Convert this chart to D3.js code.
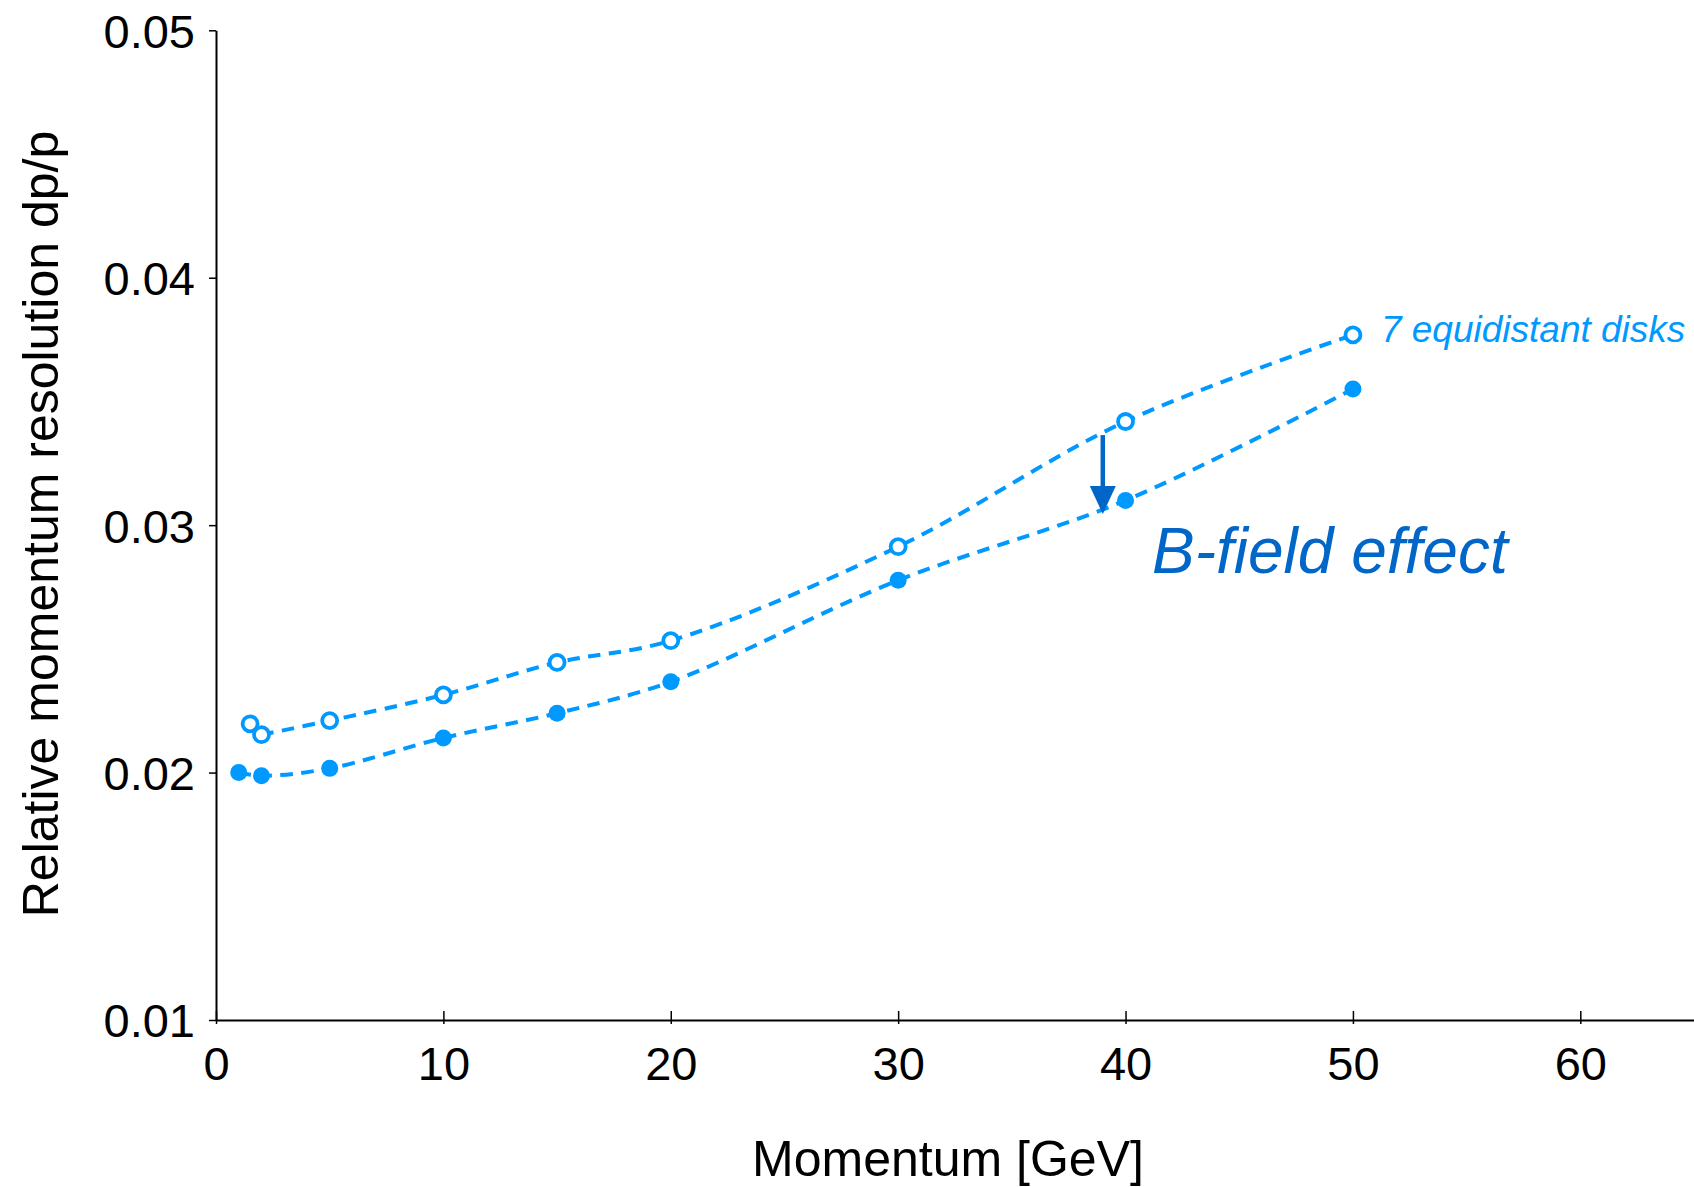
<!DOCTYPE html>
<html>
<head>
<meta charset="utf-8">
<script src="https://cdn.jsdelivr.net/npm/d3@7"></script>
<style>
  html, body { margin: 0; padding: 0; background: #fff; }
  svg { display: block; }
  text { font-family: "Liberation Sans", Arial, Helvetica, sans-serif; }
</style>
</head>
<body>
<svg id="chart" width="1694" height="1187"></svg>
<script>
// Momentum values [GeV] and relative resolution dp/p
const momentumOpen   = [1.5, 2, 5, 10, 15, 20, 30, 40, 50];
const resolutionOpen = [0.02197, 0.02153, 0.0221, 0.02314, 0.02445, 0.02533, 0.02913, 0.03419, 0.03769];

const momentumFilled   = [1, 2, 5, 10, 15, 20, 30, 40, 50];
const resolutionFilled = [0.0200, 0.01987, 0.02017, 0.0214, 0.0224, 0.02367, 0.02777, 0.0310, 0.0355];

const xTicks = [0, 10, 20, 30, 40, 50, 60];
const yTicks = [0.01, 0.02, 0.03, 0.04, 0.05];
const xTickLabels = ["0", "10", "20", "30", "40", "50", "60"];
const yTickLabels = ["0.01", "0.02", "0.03", "0.04", "0.05"];

// Arrow annotation: from the open curve down to the filled curve near 39 GeV
const arrowX = [39, 39];
const arrowY = [0.03364, 0.03045];

const seriesLabel = "7 equidistant disks";
const effectLabel = "B-field effect";

const lightBlue = "#0099ff";
const darkBlue = "#0066c8";

const svg = d3.select("#chart");
const plotLeft = 216, plotRight = 1694, plotTop = 30.3, plotBottom = 1020;

const x = d3.scaleLinear().domain([0, 65]).range([plotLeft, plotRight]);
const y = d3.scaleLinear().domain([0.01, 0.05]).range([plotBottom, plotTop]);

// Y axis
const yAxis = svg.append("g")
  .attr("transform", `translate(${plotLeft},0)`)
  .call(d3.axisLeft(y).tickValues(yTicks)
    .tickFormat((d, i) => yTickLabels[i])
    .tickSizeInner(7).tickSizeOuter(0).tickPadding(14));
yAxis.select(".domain").attr("stroke", "#000").attr("stroke-width", 2);
yAxis.selectAll(".tick line").attr("stroke", "#000").attr("stroke-width", 1.5);
yAxis.selectAll(".tick text")
  .attr("font-size", 47).attr("fill", "#000")
  .attr("font-family", "Liberation Sans, Arial, sans-serif")
  .attr("dy", "0.36em");

// X axis, ticks crossing the line
const xAxis = svg.append("g")
  .attr("transform", `translate(0,${plotBottom})`)
  .call(d3.axisBottom(x).tickValues(xTicks)
    .tickFormat((d, i) => xTickLabels[i])
    .tickSizeInner(4).tickSizeOuter(0));
xAxis.select(".domain").attr("stroke", "#000").attr("stroke-width", 2);
xAxis.selectAll(".tick line").attr("y1", -9).attr("y2", 4)
  .attr("stroke", "#000").attr("stroke-width", 1.5);
xAxis.selectAll(".tick text")
  .attr("font-size", 47).attr("fill", "#000")
  .attr("font-family", "Liberation Sans, Arial, sans-serif")
  .attr("y", 60).attr("dy", 0);

// Axis titles
svg.append("text")
  .attr("x", 948).attr("y", 1176)
  .attr("text-anchor", "middle")
  .attr("font-size", 50).attr("fill", "#000")
  .text("Momentum [GeV]");

svg.append("text")
  .attr("transform", `translate(58,524) rotate(-90)`)
  .attr("text-anchor", "middle")
  .attr("font-size", 50).attr("fill", "#000")
  .text("Relative momentum resolution dp/p");

// Dashed curves
const line = d3.line()
  .x(d => x(d[0])).y(d => y(d[1]))
  .curve(d3.curveCatmullRom.alpha(0.5));

const openPts = momentumOpen.map((m, i) => [m, resolutionOpen[i]]);
const filledPts = momentumFilled.map((m, i) => [m, resolutionFilled[i]]);

[openPts.slice(1), filledPts].forEach(pts => {
  svg.append("path")
    .datum(pts)
    .attr("d", line)
    .attr("fill", "none")
    .attr("stroke", lightBlue)
    .attr("stroke-width", 4)
    .attr("stroke-dasharray", "12.5 8.5");
});

// Markers
svg.append("g").selectAll("circle")
  .data(filledPts).join("circle")
  .attr("cx", d => x(d[0])).attr("cy", d => y(d[1]))
  .attr("r", 8.5).attr("fill", lightBlue);

svg.append("g").selectAll("circle")
  .data(openPts).join("circle")
  .attr("cx", d => x(d[0])).attr("cy", d => y(d[1]))
  .attr("r", 7.5).attr("fill", "#fff")
  .attr("stroke", lightBlue).attr("stroke-width", 3.8);

// Series label next to the last open marker
const lastOpen = openPts[openPts.length - 1];
svg.append("text")
  .attr("x", x(lastOpen[0]) + 28).attr("y", y(lastOpen[1]) + 7)
  .attr("font-size", 37).attr("font-style", "italic")
  .attr("fill", lightBlue)
  .text(seriesLabel);

// Arrow
const ax = x(arrowX[0]);
const ay0 = y(arrowY[0]), ay1 = y(arrowY[1]);
const headH = 28, headW = 26;
svg.append("line")
  .attr("x1", ax).attr("x2", ax)
  .attr("y1", ay0).attr("y2", ay1 - headH + 2)
  .attr("stroke", darkBlue).attr("stroke-width", 4.5);
svg.append("path")
  .attr("d", `M${ax - headW / 2},${ay1 - headH} L${ax + headW / 2},${ay1 - headH} L${ax},${ay1} Z`)
  .attr("fill", darkBlue);

// Effect label
svg.append("text")
  .attr("x", 1152).attr("y", 573)
  .attr("font-size", 64).attr("font-style", "italic")
  .attr("fill", darkBlue)
  .text(effectLabel);
</script>
</body>
</html>
